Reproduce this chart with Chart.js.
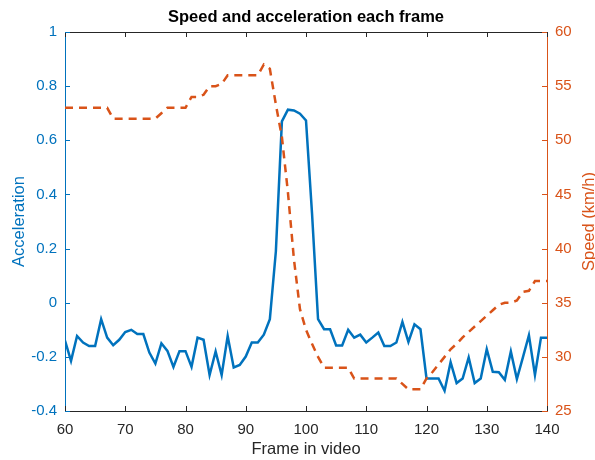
<!DOCTYPE html>
<html>
<head>
<meta charset="utf-8">
<script src="https://cdn.jsdelivr.net/npm/chart.js@4.4.1/dist/chart.umd.min.js"></script>
<style>
  html, body { margin: 0; padding: 0; background: #fff; }
  #wrap { width: 595px; height: 460px; position: relative; }
</style>
</head>
<body>
<div id="wrap"><canvas id="c" width="595" height="460"></canvas></div>
<script>
// ---- Data ----
const frames = [60,61,62,63,64,65,66,67,68,69,70,71,72,73,74,75,76,77,78,79,
  80,81,82,83,84,85,86,87,88,89,90,91,92,93,94,95,96,97,98,99,
  100,101,102,103,104,105,106,107,108,109,110,111,112,113,114,115,116,117,118,119,
  120,121,122,123,124,125,126,127,128,129,130,131,132,133,134,135,136,137,138,139,140];

const acceleration = [-0.14,-0.215,-0.123,-0.147,-0.16,-0.16,-0.061,-0.129,-0.157,-0.137,
  -0.108,-0.10,-0.116,-0.116,-0.184,-0.225,-0.15,-0.178,-0.237,-0.179,
  -0.179,-0.237,-0.129,-0.137,-0.267,-0.18,-0.267,-0.123,-0.239,-0.23,
  -0.199,-0.147,-0.147,-0.118,-0.061,0.19,0.67,0.713,0.71,0.698,
  0.673,0.33,-0.061,-0.098,-0.098,-0.158,-0.158,-0.10,-0.129,-0.118,
  -0.147,-0.129,-0.11,-0.16,-0.16,-0.147,-0.071,-0.145,-0.08,-0.098,
  -0.28,-0.28,-0.28,-0.325,-0.22,-0.297,-0.28,-0.202,-0.297,-0.28,
  -0.172,-0.255,-0.257,-0.285,-0.18,-0.282,-0.202,-0.12,-0.267,-0.129,-0.129];

const speed = [53,53,53,53,53,53,53,53,52,52,
  52,52,52,52,52,52,52.5,53,53,53,
  53,54,54,54.2,55,55,55.2,56,56,56,
  56,56,56,57,56.6,53.3,50.3,45.2,39,34.4,
  32.5,31.2,30,29,29,29,29,29,28,28,
  28,28,28,28,28,28,27.5,27,27,27,
  28,28.6,29.3,30,30.7,31.2,31.8,32.3,32.8,33.3,
  33.8,34.3,34.8,35,35,35.2,36,36.1,37,37,37];

const xTicks = [60,70,80,90,100,110,120,130,140];
const accTicks = [-0.4,-0.2,0,0.2,0.4,0.6,0.8,1];
const speedTicks = [25,30,35,40,45,50,55,60];

const titleText = 'Speed and acceleration each frame';
const xLabel = 'Frame in video';
const yLeftLabel = 'Acceleration';
const yRightLabel = 'Speed (km/h)';

// ---- Styles ----
const BLUE = '#0072BD';
const ORANGE = '#D95319';
const DARK = '#262626';
const FONT = "'Liberation Sans', Arial, Helvetica, sans-serif";

const accData = frames.map((f, i) => ({x: f, y: acceleration[i]}));
const speedData = frames.map((f, i) => ({x: f, y: speed[i]}));

const innerTicks = {
  id: 'innerTicks',
  afterDraw(chart) {
    const ctx = chart.ctx;
    const a = chart.chartArea;
    const sx = chart.scales.x, sl = chart.scales.yL, sr = chart.scales.yR;
    const L = 5;
    ctx.save();
    ctx.lineWidth = 1;
    // top border
    ctx.strokeStyle = DARK;
    ctx.beginPath();
    ctx.moveTo(a.left, a.top + 0.5);
    ctx.lineTo(a.right, a.top + 0.5);
    ctx.stroke();
    // x ticks (bottom & top)
    ctx.beginPath();
    xTicks.forEach(v => {
      const px = Math.round(sx.getPixelForValue(v)) + 0.5;
      ctx.moveTo(px, a.bottom); ctx.lineTo(px, a.bottom - L);
      ctx.moveTo(px, a.top); ctx.lineTo(px, a.top + L);
    });
    ctx.stroke();
    // left ticks
    ctx.strokeStyle = BLUE;
    ctx.beginPath();
    accTicks.forEach(v => {
      const py = Math.round(sl.getPixelForValue(v)) + 0.5;
      ctx.moveTo(a.left, py); ctx.lineTo(a.left + L, py);
    });
    ctx.stroke();
    // right ticks
    ctx.strokeStyle = ORANGE;
    ctx.beginPath();
    speedTicks.forEach(v => {
      const py = Math.round(sr.getPixelForValue(v)) + 0.5;
      ctx.moveTo(a.right, py); ctx.lineTo(a.right - L, py);
    });
    ctx.stroke();
    // title
    ctx.fillStyle = '#000';
    ctx.font = "bold 16.5px " + FONT;
    ctx.textAlign = 'center';
    ctx.textBaseline = 'middle';
    ctx.fillText(titleText, (a.left + a.right) / 2, 17);
    // right axis title (reads bottom to top)
    ctx.fillStyle = ORANGE;
    ctx.font = "16.5px " + FONT;
    ctx.translate(589, (a.top + a.bottom) / 2);
    ctx.rotate(-Math.PI / 2);
    ctx.fillText(yRightLabel, 0, 0);
    ctx.restore();
  }
};

new Chart(document.getElementById('c'), {
  type: 'line',
  data: {
    datasets: [
      {
        label: 'Speed',
        data: speedData,
        yAxisID: 'yR',
        borderColor: ORANGE,
        borderWidth: 2.5,
        borderDash: [8, 6],
        pointRadius: 0,
        tension: 0,
        fill: false
      },
      {
        label: 'Acceleration',
        data: accData,
        yAxisID: 'yL',
        borderColor: BLUE,
        borderWidth: 2.5,
        pointRadius: 0,
        tension: 0,
        fill: false
      }
    ]
  },
  options: {
    responsive: false,
    animation: false,
    devicePixelRatio: 1,
    layout: { padding: { top: 32, left: 0, right: 0, bottom: 0 } },
    plugins: {
      legend: { display: false },
      title: { display: false },
      tooltip: { enabled: false }
    },
    scales: {
      x: {
        type: 'linear',
        min: 60, max: 140,
        afterBuildTicks: s => { s.ticks = xTicks.map(v => ({value: v})); },
        afterFit: s => { s.height = 49; },
        ticks: { color: DARK, font: { family: FONT, size: 15 }, padding: 10, maxRotation: 0 },
        grid: { drawOnChartArea: false, drawTicks: false },
        border: { color: DARK, width: 1 },
        title: { display: true, text: xLabel, color: DARK, font: { family: FONT, size: 16.5 }, padding: { top: 0, bottom: 1 } }
      },
      yL: {
        type: 'linear',
        position: 'left',
        min: -0.4, max: 1,
        afterBuildTicks: s => { s.ticks = accTicks.map(v => ({value: v})); },
        afterFit: s => { s.width = 65; },
        ticks: { color: BLUE, font: { family: FONT, size: 15 }, padding: 8,
          callback: v => String(+v.toFixed(2)) },
        grid: { drawOnChartArea: false, drawTicks: false },
        border: { color: BLUE, width: 1 },
        title: { display: true, text: yLeftLabel, color: BLUE, font: { family: FONT, size: 16.5 }, padding: { top: 10, bottom: 0 } }
      },
      yR: {
        type: 'linear',
        position: 'right',
        min: 25, max: 60,
        afterBuildTicks: s => { s.ticks = speedTicks.map(v => ({value: v})); },
        afterFit: s => { s.width = 48; },
        ticks: { color: ORANGE, font: { family: FONT, size: 15 }, padding: 8 },
        grid: { drawOnChartArea: false, drawTicks: false },
        border: { color: ORANGE, width: 1 },
        title: { display: false }
      }
    }
  },
  plugins: [innerTicks]
});
</script>
</body>
</html>
